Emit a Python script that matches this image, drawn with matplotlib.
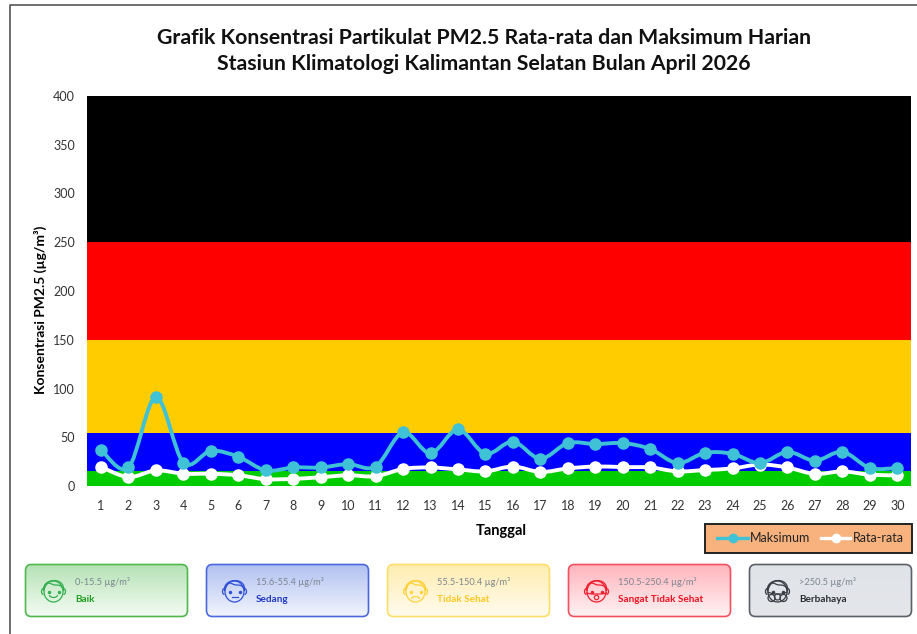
"""Grafik PM2.5 harian dengan pita kategori kualitas udara."""

import matplotlib
matplotlib.use("Agg")
import matplotlib.pyplot as plt
import numpy as np
from matplotlib.patches import Arc, Circle, Ellipse, FancyBboxPatch, PathPatch
from matplotlib.path import Path

plt.rcParams["font.family"] = ["Lato", "DejaVu Sans"]

W, H = 917, 634

tanggal = list(range(1, 31))
maksimum = [37, 19, 91, 24, 36, 30, 16, 19, 19, 22.5, 20, 55, 33.5, 58, 33,
            45.5, 28, 44, 43, 44, 38, 23.5, 34, 33, 23.5, 35, 26, 35, 18.5, 18.5]
rata_rata = [19.5, 9.2, 16, 12.6, 12.6, 11, 7, 7.3, 9, 11, 10, 17.5, 19, 17, 15,
             20, 14.4, 18, 20, 19.4, 19, 15, 16.4, 18, 22, 19, 12.4, 15, 11.6, 11]

batas_bawah = [0, 15, 54.5, 150, 250]
batas_atas = [15, 54.5, 150, 250, 400]
warna_pita = ["#00CC00", "#0000FF", "#FFCC00", "#FF0000", "#000000"]

y_ticks = [0, 50, 100, 150, 200, 250, 300, 350, 400]

kartu_rentang = ["0-15.5 µg/m³", "15.6-55.4 µg/m³", "55.5-150.4 µg/m³",
                 "150.5-250.4 µg/m³", ">250.5 µg/m³"]
kartu_nama = ["Baik", "Sedang", "Tidak Sehat", "Sangat Tidak Sehat", "Berbahaya"]
kartu_warna = ["#4FB84F", "#4A68DC", "#FFDD66", "#F2505F", "#5A6068"]
kartu_wajah = ["#35B050", "#3050D8", "#FFD23C", "#F02030", "#3A3E44"]
kartu_teks = ["#1E9E1E", "#2038C0", "#FFC820", "#F01020", "#2A2E33"]
kartu_atas = ["#B4E2B4", "#B0C0F0", "#FFEDB0", "#FFB4BC", "#E0E3E8"]
kartu_bawah = ["#F4FBF4", "#F2F5FE", "#FFFBEE", "#FFF2F3", "#E4E6EA"]
kartu_kiri = [25.5, 206.5, 387.5, 568.5, 749.5]
mulut = ["senyum", "datar", "sedih", "masker", "gas"]


def garis_halus(x, y):
    """Kurva Catmull-Rom seperti 'smoothed line' Excel."""
    pts = np.column_stack([x, y]).astype(float)
    verts = [pts[0]]
    codes = [Path.MOVETO]
    for i in range(len(pts) - 1):
        p0 = pts[max(i - 1, 0)]
        p1, p2 = pts[i], pts[i + 1]
        p3 = pts[min(i + 2, len(pts) - 1)]
        verts += [p1 + (p2 - p0) / 6, p2 - (p3 - p1) / 6, p2]
        codes += [Path.CURVE4] * 3
    return Path(verts, codes)


def gambar_wajah(ov, cx, cy, warna, jenis):
    lw = 0.9
    ov.add_patch(Ellipse((cx, cy + 1.5), 19, 21, fc="none", ec=warna, lw=lw, zorder=4))
    # telinga
    ov.add_patch(Arc((cx - 10, cy + 1.5), 4, 6, theta1=90, theta2=270, ec=warna, lw=lw, zorder=4))
    ov.add_patch(Arc((cx + 10, cy + 1.5), 4, 6, theta1=-90, theta2=90, ec=warna, lw=lw, zorder=4))
    # rambut
    rambut = Path(
        [(cx - 10, cy + 1), (cx - 12, cy - 12), (cx + 12, cy - 14), (cx + 10, cy + 1),
         (cx + 9, cy - 5), (cx + 5, cy - 5), (cx + 2, cy - 5),
         (cx - 1, cy - 5), (cx - 3, cy - 7), (cx - 5, cy - 7),
         (cx - 8, cy - 6), (cx - 9, cy - 3), (cx - 10, cy + 1)],
        [Path.MOVETO] + [Path.CURVE4] * 12,
    )
    ov.add_patch(PathPatch(rambut, fc="none", ec=warna, lw=lw, zorder=4))
    ov.plot([cx - 5, cx + 5], [cy + 1.5, cy + 1.5], ls="none", marker="o", ms=1.5, color=warna, zorder=4)
    if jenis == "senyum":
        ov.add_patch(Arc((cx, cy + 5), 8, 5, theta1=0, theta2=180, ec=warna, lw=lw, zorder=4))
    elif jenis == "datar":
        ov.plot([cx - 3, cx + 3], [cy + 7, cy + 7], color=warna, lw=lw, zorder=4)
    elif jenis == "sedih":
        ov.add_patch(Arc((cx, cy + 9), 8, 5, theta1=180, theta2=360, ec=warna, lw=lw, zorder=4))
    elif jenis == "masker":
        ov.add_patch(Circle((cx, cy + 7.5), 2.2, fc="none", ec=warna, lw=lw, zorder=4))
        ov.plot([cx - 10, cx - 5, cx + 5, cx + 10], [cy + 3, cy + 4, cy + 4, cy + 3],
                color=warna, lw=lw, zorder=4)
    else:
        ov.add_patch(Circle((cx - 6, cy + 8), 3.5, fc="none", ec=warna, lw=lw, zorder=4))
        ov.add_patch(Circle((cx + 6, cy + 8), 3.5, fc="none", ec=warna, lw=lw, zorder=4))
        ov.add_patch(Circle((cx, cy + 7), 3, fc="none", ec=warna, lw=lw, zorder=4))
        ov.plot([cx - 10, cx - 4, cx + 4, cx + 10], [cy + 2, cy + 4, cy + 4, cy + 2],
                color=warna, lw=lw, zorder=4)


fig = plt.figure(figsize=(W / 100, H / 100), dpi=100, facecolor="white")
ax = fig.add_axes([87.3 / W, 1 - 486 / H, (911 - 87.3) / W, 390 / H])

for lo, hi, c in zip(batas_bawah, batas_atas, warna_pita):
    ax.axhspan(lo, hi, color=c, lw=0, zorder=1)

ax.add_patch(PathPatch(garis_halus(tanggal, rata_rata), fc="none", ec="white", lw=2.8, zorder=3))
ax.plot(tanggal, rata_rata, ls="none", marker="o", ms=8, color="white", zorder=3)
ax.add_patch(PathPatch(garis_halus(tanggal, maksimum), fc="none", ec="#3FC1D6", lw=2.8, zorder=4))
ax.plot(tanggal, maksimum, ls="none", marker="o", ms=8, color="#3FC1D6", zorder=4)

ax.set_xlim(0.5, 30.5)
ax.set_ylim(0, 400)
ax.set_xticks(tanggal)
ax.set_yticks(y_ticks)
ax.tick_params(length=0, labelsize=9, colors="#333333")
ax.tick_params(axis="x", pad=10)
ax.tick_params(axis="y", pad=9)
for s in ax.spines.values():
    s.set_visible(False)
ax.set_xlabel("Tanggal", fontsize=10.5, fontweight="bold")
ax.xaxis.set_label_coords(0.503, -0.097)
ax.set_ylabel("Konsentrasi PM2.5 (µg/m³)", fontsize=10, fontweight="bold")
ax.yaxis.set_label_coords(-0.0493, 0.451)

# lapisan piksel untuk judul, legenda, kartu kategori
ov = fig.add_axes([0, 0, 1, 1], zorder=5)
ov.set_xlim(0, W)
ov.set_ylim(H, 0)
ov.axis("off")

ov.text(484, 38, "Grafik Konsentrasi Partikulat PM2.5 Rata-rata dan Maksimum Harian",
        ha="center", va="center", fontsize=15.35, fontweight="bold", color="#111111")
ov.text(484, 64.5, "Stasiun Klimatologi Kalimantan Selatan Bulan April 2026",
        ha="center", va="center", fontsize=15.35, fontweight="bold", color="#111111")

# bingkai gambar
ov.plot([9.5, 9.5, W], [H, 4.5, 4.5], color="#555555", lw=1.2)

# legenda
ov.add_patch(plt.Rectangle((705, 523.5), 207, 29, fc="#F7B27E", ec="#222222", lw=1.4))
ov.plot([717, 748], [537.5, 537.5], color="#3FC1D6", lw=2.4)
ov.plot([732.5], [537.5], marker="o", ms=6, color="#3FC1D6")
ov.text(750, 537.5, "Maksimum", va="center", fontsize=9, color="#222222")
ov.plot([821, 850], [537.5, 537.5], color="white", lw=2.4)
ov.plot([835.5], [537.5], marker="o", ms=6, color="white")
ov.text(853, 537.5, "Rata-rata", va="center", fontsize=9, color="#222222")

# kartu kategori
gradien = np.linspace(0, 1, 64).reshape(-1, 1)
for i, kiri in enumerate(kartu_kiri):
    atas = np.array(matplotlib.colors.to_rgb(kartu_atas[i]))
    bawah = np.array(matplotlib.colors.to_rgb(kartu_bawah[i]))
    warna = atas + (bawah - atas) * gradien[..., None]
    kotak = FancyBboxPatch((kiri, 564.5), 162, 52, boxstyle="round,pad=0,rounding_size=6",
                           fc="none", ec=kartu_warna[i], lw=1.2, zorder=3)
    ov.add_patch(kotak)
    img = ov.imshow(warna, extent=(kiri, kiri + 162, 616.5, 564.5), aspect="auto", zorder=2)
    img.set_clip_path(kotak)
    gambar_wajah(ov, kiri + 28, 590, kartu_wajah[i], mulut[i])
    ov.text(kiri + 49.5, 582, kartu_rentang[i], va="center", fontsize=6.7, color="#7D8590", zorder=4)
    ov.text(kiri + 49.5, 600, kartu_nama[i], va="center", fontsize=7.2, fontweight="bold",
            color=kartu_teks[i], zorder=4)
ov.set_xlim(0, W)
ov.set_ylim(H, 0)

fig.savefig("out.png", dpi=100)
